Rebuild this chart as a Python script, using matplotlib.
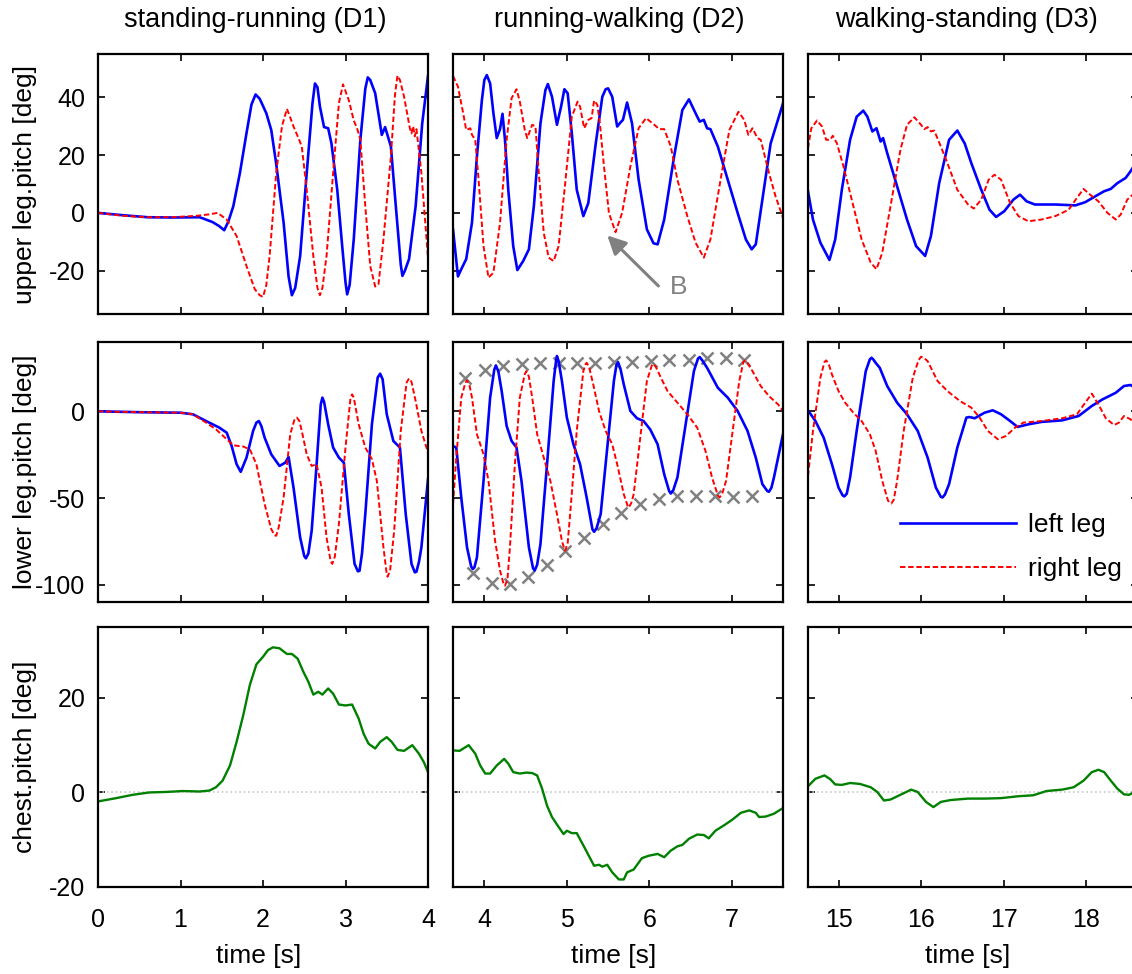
import matplotlib.pyplot as plt
from matplotlib.lines import Line2D

plt.rcParams['font.family'] = ['Liberation Sans', 'DejaVu Sans']
plt.rcParams['axes.unicode_minus'] = False

titles = ['standing-running (D1)', 'running-walking (D2)', 'walking-standing (D3)']
row_labels = ['upper leg.pitch [deg]', 'lower leg.pitch [deg]', 'chest.pitch [deg]']
xlims = [(0, 4), (3.62, 7.62), (14.63, 18.63)]
xticks = [[0, 1, 2, 3, 4], [4, 5, 6, 7], [15, 16, 17, 18]]
ylims = [(-35, 55), (-110, 40), (-20, 35)]
yticks = [[-20, 0, 20, 40], [-100, -50, 0], [-20, 0, 20]]

# ---- upper leg pitch ----
t_up_l1 = [0, 0.3, 0.6, 0.9, 1.23, 1.28, 1.39, 1.47, 1.53, 1.58, 1.64, 1.72, 1.8, 1.86, 1.91, 1.96,
           2.04, 2.1, 2.16, 2.25, 2.31, 2.35, 2.39, 2.45, 2.53, 2.6, 2.63, 2.66, 2.69, 2.74, 2.79, 2.83,
           2.9, 2.96, 3.0, 3.02, 3.05, 3.1, 3.18, 3.24, 3.27, 3.3, 3.36, 3.44, 3.48, 3.55, 3.61, 3.67,
           3.69, 3.72, 3.77, 3.85, 3.93, 4.0]
up_l1 = [0, -0.8, -1.5, -1.6, -1.5, -2.0, -3.2, -4.6, -6.0, -3.0, 2.3, 13.8, 27.6, 37.5, 41.0, 39.5,
         34.5, 28.7, 17.0, -3.4, -22.0, -28.5, -26.0, -15.0, 13.8, 38.0, 44.8, 43.5, 36.8, 29.7, 29.3, 24.0,
         8.0, -11.5, -24.0, -28.2, -25.0, -9.2, 25.3, 43.0, 46.9, 46.0, 41.4, 27.0, 29.7, 23.0, 2.3, -18.0,
         -21.8, -20.0, -16.0, 2.3, 31.0, 47.4]
t_up_r1 = [0, 0.3, 0.6, 0.9, 1.2, 1.35, 1.45, 1.56, 1.68, 1.8, 1.9, 1.96, 2.0, 2.04, 2.08, 2.16, 2.23,
           2.29, 2.33, 2.37, 2.43, 2.47, 2.53, 2.61, 2.66, 2.69, 2.72, 2.77, 2.85, 2.92, 2.97, 3.04, 3.1,
           3.14, 3.18, 3.24, 3.3, 3.36, 3.4, 3.46, 3.55, 3.6, 3.63, 3.66, 3.71, 3.78, 3.8, 3.82, 3.84,
           3.86, 3.88, 3.92, 4.0]
up_r1 = [0, -1.0, -1.5, -1.5, -1.0, -0.5, 0, -2.3, -8.0, -18.4, -26.4, -28.5, -29.1, -25.0, -15.0, 13.8, 30.0,
         36.0, 33.0, 29.9, 25.9, 23.0, 8.0, -15.0, -26.0, -28.5, -26.0, -15.0, 13.8, 38.0, 44.5, 39.0, 32.0,
         29.3, 25.3, 2.3, -18.4, -25.5, -24.7, -9.2, 19.5, 41.0, 47.5, 46.0, 40.2, 29.3, 27.5, 30.0, 26.5,
         29.0, 24.0, 13.8, -15.5]

t_up_l2 = [3.62, 3.68, 3.72, 3.78, 3.85, 3.91, 3.97, 4.0, 4.03, 4.07, 4.11, 4.15, 4.19, 4.22, 4.25, 4.29,
           4.35, 4.4, 4.47, 4.54, 4.6, 4.68, 4.74, 4.77, 4.82, 4.88, 4.93, 4.97, 5.01, 5.06, 5.12, 5.2,
           5.26, 5.35, 5.43, 5.47, 5.5, 5.55, 5.61, 5.65, 5.68, 5.73, 5.79, 5.87, 5.97, 6.05, 6.1, 6.18,
           6.3, 6.4, 6.48, 6.56, 6.61, 6.66, 6.7, 6.74, 6.83, 6.95, 7.07, 7.17, 7.24, 7.29, 7.37, 7.47,
           7.62]
up_l2 = [-5.7, -22.0, -19.5, -16.0, -3.4, 19.5, 39.0, 46.0, 47.7, 44.8, 34.5, 25.9, 29.0, 34.3, 25.3, 8.0,
         -11.5, -19.8, -16.7, -12.6, 2.3, 31.0, 42.5, 44.6, 40.2, 30.5, 36.8, 42.8, 41.4, 27.6, 8.0, -1.1,
         3.4, 24.0, 40.2, 42.8, 43.1, 40.2, 29.9, 31.3, 32.2, 38.2, 31.0, 11.5, -5.7, -10.5, -10.9, -2.3,
         19.5, 35.6, 39.3, 34.5, 31.6, 32.2, 29.3, 29.0, 23.0, 11.5, 0, -9.2, -12.6, -10.9, 4.6, 24.0,
         37.9]
t_up_r2 = [3.62, 3.68, 3.74, 3.78, 3.83, 3.85, 3.89, 3.93, 3.99, 4.05, 4.11, 4.19, 4.27, 4.33, 4.39, 4.43,
           4.49, 4.52, 4.58, 4.62, 4.66, 4.72, 4.78, 4.84, 4.9, 4.98, 5.06, 5.13, 5.16, 5.21, 5.26, 5.3,
           5.33, 5.37, 5.4, 5.45, 5.51, 5.59, 5.67, 5.77, 5.87, 5.96, 6.06, 6.12, 6.18, 6.26, 6.34, 6.46,
           6.56, 6.66, 6.74, 6.87, 6.97, 7.08, 7.15, 7.2, 7.25, 7.31, 7.35, 7.45, 7.53, 7.62]
up_r2 = [47.4, 43.7, 35.0, 28.7, 29.3, 27.0, 25.3, 11.5, -11.5, -22.4, -20.7, -3.4, 25.3, 39.7, 42.8, 38.5,
         28.7, 25.9, 30.5, 29.9, 13.8, -6.9, -15.5, -16.7, -11.5, 10.3, 33.3, 38.5, 36.8, 29.3, 32.2, 32.8,
         38.9, 37.4, 31.0, 16.1, 0, -6.7, 0, 16.1, 29.3, 32.8, 30.5, 29.0, 29.0, 23.0, 11.5, -1.1,
         -10.3, -15.5, -9.2, 12.6, 28.7, 35.0, 32.2, 27.0, 29.3, 25.9, 25.3, 13.8, 5.7, -1.7]

t_up_l3 = [14.63, 14.69, 14.78, 14.89, 14.96, 15.04, 15.14, 15.22, 15.3, 15.35, 15.41, 15.46, 15.51, 15.54,
           15.59, 15.71, 15.83, 15.94, 16.05, 16.12, 16.22, 16.34, 16.44, 16.53, 16.61, 16.73, 16.83, 16.91,
           17.01, 17.12, 17.2, 17.28, 17.38, 17.63, 17.87, 17.99, 18.11, 18.22, 18.3, 18.38, 18.48, 18.54,
           18.59]
up_l3 = [7.5, -2.3, -10.3, -16.3, -9.2, 8.0, 25.3, 33.3, 35.4, 33.3, 28.2, 29.3, 24.7, 25.9,
         20.7, 9.2, -2.3, -11.5, -14.9, -8.0, 10.3, 25.3, 28.5, 24.0, 17.2, 8.0, 1.1, -1.4,
         0.6, 4.6, 6.3, 4.0, 2.9, 2.9, 2.6, 3.7, 5.7, 7.5, 8.3, 10.3, 12.1, 14.4,
         16.7]
t_up_r3 = [14.63, 14.67, 14.74, 14.8, 14.85, 14.9, 14.93, 14.98, 15.06, 15.18, 15.28, 15.39, 15.46, 15.53,
           15.63, 15.75, 15.83, 15.92, 16.0, 16.04, 16.08, 16.12, 16.16, 16.24, 16.32, 16.44, 16.57, 16.64,
           16.73, 16.82, 16.89, 16.97, 17.08, 17.18, 17.3, 17.46, 17.63, 17.79, 17.89, 17.97, 18.05, 18.15,
           18.26, 18.36, 18.42, 18.5, 18.59]
up_r3 = [22.4, 29.3, 32.0, 29.9, 25.3, 25.3, 26.7, 24.1, 16.1, 2.3, -9.2, -17.2, -19.5, -13.8,
         2.3, 21.8, 30.5, 33.1, 30.5, 29.0, 29.7, 28.2, 28.5, 23.0, 17.2, 8.0, 2.9, 1.5,
         4.6, 11.5, 13.2, 11.5, 3.4, -1.1, -2.9, -2.3, -1.1, 1.1, 5.2, 8.3, 6.3, 4.0,
         0, -2.3, -0.6, 4.6, 6.9]

# ---- lower leg pitch ----
t_lo_l1 = [0, 0.5, 1.0, 1.15, 1.31, 1.47, 1.56, 1.62, 1.68, 1.73, 1.8, 1.88, 1.92, 1.95, 1.98, 2.02, 2.1,
           2.2, 2.27, 2.31, 2.37, 2.45, 2.5, 2.52, 2.55, 2.59, 2.65, 2.7, 2.72, 2.74, 2.79, 2.85, 2.92,
           2.98, 3.04, 3.11, 3.15, 3.17, 3.2, 3.24, 3.32, 3.39, 3.42, 3.45, 3.5, 3.58, 3.66, 3.73, 3.8,
           3.84, 3.86, 3.89, 3.92, 4.0]
lo_l1 = [0, -0.5, -0.8, -1.7, -5.6, -9.4, -12.3, -20.0, -30.5, -34.9, -26.7, -11.3, -6.5, -5.6, -8.5, -15.2,
         -24.8, -31.5, -29.6, -26.3, -44.0, -72.7, -83.5, -84.8, -82.0, -68.9, -30.5, 4.0, 7.9, 5.5, -7.5,
         -20.9, -26.7, -29.6, -59.3, -88.0, -92.3, -92.0, -82.0, -59.3, -7.5, 19.5, 21.7, 18.5, -1.7, -17.1,
         -20.9, -59.3, -88.0, -92.9, -92.5, -87.0, -78.5, -39.2]
t_lo_r1 = [0, 0.5, 1.0, 1.15, 1.31, 1.43, 1.56, 1.64, 1.76, 1.84, 1.92, 2.02, 2.1, 2.14, 2.16, 2.19, 2.25,
           2.33, 2.38, 2.41, 2.44, 2.47, 2.53, 2.59, 2.65, 2.71, 2.77, 2.82, 2.84, 2.87, 2.92, 3.0, 3.06,
           3.08, 3.1, 3.16, 3.24, 3.32, 3.38, 3.46, 3.5, 3.51, 3.54, 3.59, 3.67, 3.74, 3.77, 3.8, 3.85,
           3.92, 4.0]
lo_r1 = [0, -0.5, -0.8, -1.7, -6.5, -10.4, -16.1, -19.6, -20.3, -21.9, -30.5, -53.6, -67.9, -71.5, -71.8,
         -67.0, -49.7, -13.2, -5.0, -3.6, -5.5, -11.3, -24.8, -31.5, -30.5, -44.0, -72.7, -86.5, -88.0,
         -84.0, -65.0, -20.9, 7.5, 9.8, 8.0, -7.5, -20.9, -27.6, -40.1, -78.5, -94.0, -95.4, -92.0, -68.9,
         -11.3, 16.5, 19.0, 17.0, 6.0, -11.3, -23.8]

t_lo_l2 = [3.62, 3.66, 3.72, 3.79, 3.84, 3.86, 3.88, 3.91, 3.99, 4.07, 4.12, 4.14, 4.17, 4.21, 4.27, 4.33,
           4.39, 4.45, 4.54, 4.59, 4.61, 4.64, 4.68, 4.76, 4.84, 4.87, 4.88, 4.9, 4.94, 5.0, 5.08, 5.16,
           5.24, 5.31, 5.33, 5.36, 5.41, 5.49, 5.57, 5.6, 5.62, 5.65, 5.69, 5.77, 5.85, 5.93, 6.01, 6.1,
           6.18, 6.24, 6.26, 6.29, 6.34, 6.44, 6.54, 6.59, 6.61, 6.64, 6.7, 6.83, 6.95, 7.07, 7.19, 7.29,
           7.37, 7.43, 7.45, 7.48, 7.51, 7.62]
lo_l2 = [-20.0, -20.9, -49.7, -78.5, -89.5, -91.0, -90.0, -84.3, -40.1, 7.9, 24.0, 26.5, 23.0, 11.7, -8.4,
         -17.1, -20.9, -40.1, -78.5, -90.5, -91.9, -88.5, -76.6, -30.5, 17.5, 29.5, 31.9, 29.0, 17.5, -3.6,
         -19.0, -30.5, -49.7, -68.0, -69.5, -67.5, -59.3, -20.9, 17.5, 26.5, 28.4, 24.5, 15.5, 0.2, -4.0,
         -5.6, -10.4, -19.0, -36.3, -46.0, -47.4, -45.5, -38.2, -7.5, 23.2, 30.5, 31.3, 29.5, 25.1, 13.6,
         7.9, 0.2, -11.3, -26.7, -42.0, -46.0, -46.4, -44.0, -38.2, -13.2]
t_lo_r2 = [3.62, 3.66, 3.72, 3.77, 3.79, 3.82, 3.85, 3.91, 3.99, 4.05, 4.13, 4.19, 4.23, 4.25, 4.28, 4.31,
           4.37, 4.43, 4.49, 4.51, 4.54, 4.58, 4.64, 4.72, 4.8, 4.88, 4.94, 4.97, 4.98, 5.01, 5.04, 5.12,
           5.2, 5.23, 5.24, 5.27, 5.32, 5.39, 5.47, 5.55, 5.61, 5.69, 5.74, 5.75, 5.78, 5.81, 5.89, 5.97,
           6.03, 6.05, 6.08, 6.14, 6.22, 6.34, 6.46, 6.58, 6.68, 6.76, 6.83, 6.85, 6.88, 6.93, 7.01, 7.09,
           7.14, 7.16, 7.19, 7.25, 7.35, 7.45, 7.56, 7.62]
lo_r2 = [-53.6, -26.7, 7.9, 16.5, 17.9, 15.0, 7.9, -13.2, -24.8, -40.1, -74.7, -91.9, -99.0, -100.6, -97.0,
         -78.5, -30.5, 7.9, 21.5, 23.2, 20.0, 7.9, -13.2, -26.7, -40.1, -59.3, -74.7, -79.5, -80.4, -76.0,
         -59.3, -11.3, 23.2, 27.5, 28.0, 25.5, 15.5, 0.2, -11.3, -19.0, -30.5, -47.8, -55.0, -55.5, -53.0,
         -47.8, -15.2, 17.5, 26.5, 27.4, 25.5, 19.4, 11.7, 5.0, -1.7, -9.4, -22.8, -38.2, -48.5, -49.7,
         -48.0, -40.1, -11.3, 17.5, 28.5, 29.4, 28.0, 23.2, 14.6, 8.8, 4.0, 0.2]

t_lo_l3 = [14.63, 14.72, 14.82, 14.92, 15.0, 15.05, 15.07, 15.1, 15.14, 15.22, 15.33, 15.38, 15.4, 15.42,
           15.45, 15.5, 15.59, 15.71, 15.83, 15.96, 16.08, 16.18, 16.24, 16.26, 16.29, 16.34, 16.44, 16.55,
           16.59, 16.65, 16.77, 16.87, 16.97, 17.08, 17.17, 17.3, 17.46, 17.71, 17.91, 18.07, 18.2, 18.36,
           18.46, 18.54, 18.59]
lo_l3 = [0.6, -5.6, -15.2, -30.5, -44.0, -48.5, -49.1, -47.5, -38.2, -11.3, 23.2, 30.0, 30.9, 30.0,
         28.0, 25.1, 14.6, 5.0, -1.7, -11.3, -26.7, -44.0, -49.3, -49.7, -48.0, -42.0, -20.9, -3.6,
         -3.3, -4.0, -0.8, 0.6, -1.7, -5.6, -9.0, -7.5, -6.1, -5.2, -2.7, 3.1, 6.9, 10.7,
         14.6, 15.2, 13.6]
t_lo_r3 = [14.63, 14.69, 14.78, 14.83, 14.85, 14.88, 14.92, 15.0, 15.08, 15.18, 15.28, 15.38, 15.45, 15.53,
           15.6, 15.64, 15.67, 15.71, 15.79, 15.9, 15.97, 16.0, 16.03, 16.08, 16.14, 16.2, 16.32, 16.47,
           16.61, 16.71, 16.81, 16.93, 17.03, 17.14, 17.24, 17.46, 17.71, 17.89, 17.99, 18.07, 18.15, 18.24,
           18.34, 18.4, 18.46, 18.54, 18.59]
lo_r3 = [-37.2, -11.3, 19.4, 28.5, 29.4, 27.5, 21.3, 11.7, 5.0, -0.8, -5.6, -13.2, -22.8, -40.1,
         -51.6, -53.2, -51.0, -40.1, -11.3, 19.4, 29.5, 31.5, 31.0, 29.0, 23.2, 17.5, 11.7, 6.0,
         2.1, -3.6, -11.3, -16.1, -14.2, -9.4, -6.5, -5.6, -4.0, -1.7, 5.0, 10.2, 4.0, -4.0,
         -7.9, -6.5, -2.7, -4.6, -7.1]

# envelope markers (D2, lower leg)
mk_up_t = [3.765, 4.008, 4.231, 4.454, 4.677, 4.908, 5.123, 5.346, 5.569, 5.792, 6.015, 6.238, 6.481,
           6.704, 6.927, 7.15]
mk_up_y = [19.4, 23.6, 26.1, 27.1, 27.6, 28.0, 28.0, 28.0, 28.4, 28.4, 29.0, 29.4, 29.9, 30.9, 30.5, 29.9]
mk_lo_t = [3.858, 4.089, 4.312, 4.535, 4.758, 4.981, 5.204, 5.435, 5.658, 5.885, 6.116, 6.339, 6.562,
           6.793, 7.016, 7.239]
mk_lo_y = [-93.5, -99.2, -99.6, -95.4, -88.7, -80.8, -72.8, -65.1, -58.4, -53.6, -50.7, -49.1, -49.1,
           -49.1, -49.7, -49.1]

# ---- chest pitch ----
t_ch1 = [0, 0.22, 0.42, 0.62, 0.82, 1.03, 1.23, 1.35, 1.43, 1.51, 1.6, 1.68, 1.76, 1.84, 1.92, 2.0, 2.06,
         2.12, 2.2, 2.29, 2.35, 2.42, 2.49, 2.55, 2.61, 2.67, 2.72, 2.79, 2.85, 2.92, 3.0, 3.08, 3.16,
         3.22, 3.28, 3.36, 3.42, 3.5, 3.56, 3.63, 3.71, 3.81, 3.89, 3.95, 4.0]
ch1 = [-1.9, -1.2, -0.5, 0, 0.1, 0.3, 0.2, 0.4, 1.1, 2.5, 5.7, 10.7, 16.3, 22.7, 27.1, 28.7, 30.1,
       30.7, 30.5, 29.3, 29.3, 28.3, 25.5, 23.4, 20.7, 21.3, 20.7, 22.0, 20.9, 18.6, 18.4, 18.6, 15.6,
       12.4, 10.3, 9.3, 10.7, 11.7, 10.7, 9.0, 8.8, 10.0, 8.2, 6.4, 4.3]
t_ch2 = [3.62, 3.7, 3.81, 3.89, 3.95, 4.01, 4.07, 4.15, 4.24, 4.29, 4.35, 4.43, 4.51, 4.58, 4.64, 4.7,
         4.76, 4.82, 4.9, 4.96, 5.0, 5.06, 5.12, 5.2, 5.33, 5.39, 5.43, 5.49, 5.55, 5.63, 5.69, 5.73,
         5.81, 5.91, 5.99, 6.1, 6.18, 6.26, 6.34, 6.4, 6.48, 6.58, 6.66, 6.72, 6.8, 6.91, 7.01, 7.11,
         7.21, 7.29, 7.33, 7.41, 7.51, 7.62]
ch2 = [8.9, 8.8, 10.0, 8.2, 5.7, 4.0, 4.0, 5.7, 7.1, 6.1, 4.3, 4.0, 4.2, 4.1, 3.6, 0.8,
       -2.8, -5.2, -7.3, -8.8, -8.1, -8.6, -8.6, -11.2, -15.5, -15.3, -15.7, -15.3, -16.9, -18.4, -18.4,
       -16.9, -16.3, -13.9, -13.4, -13.0, -13.7, -12.3, -11.4, -11.1, -9.8, -8.9, -9.0, -9.7, -8.1,
       -6.9, -5.7, -4.3, -3.8, -4.3, -5.2, -5.1, -4.5, -3.3]
t_ch3 = [14.63, 14.72, 14.83, 14.9, 14.96, 15.04, 15.14, 15.26, 15.39, 15.47, 15.55, 15.63, 15.75, 15.88,
         15.96, 16.06, 16.15, 16.24, 16.36, 16.57, 16.77, 16.97, 17.18, 17.36, 17.52, 17.71, 17.85, 17.97,
         18.07, 18.15, 18.22, 18.3, 18.38, 18.46, 18.52, 18.59]
ch3 = [1.3, 2.9, 3.6, 2.8, 1.7, 1.6, 2.0, 1.8, 1.1, 0.1, -1.7, -1.5, -0.5, 0.6,
       0.1, -2.0, -3.1, -2.0, -1.6, -1.3, -1.3, -1.2, -0.8, -0.6, 0.3, 0.6, 1.1, 2.5,
       4.3, 4.8, 4.3, 2.5, 0.8, -0.4, -0.5, 0.1]

left_series = [[(t_up_l1, up_l1), (t_up_l2, up_l2), (t_up_l3, up_l3)],
               [(t_lo_l1, lo_l1), (t_lo_l2, lo_l2), (t_lo_l3, lo_l3)]]
right_series = [[(t_up_r1, up_r1), (t_up_r2, up_r2), (t_up_r3, up_r3)],
                [(t_lo_r1, lo_r1), (t_lo_r2, lo_r2), (t_lo_r3, lo_r3)]]
chest_series = [(t_ch1, ch1), (t_ch2, ch2), (t_ch3, ch3)]

BLUE = '#0000ff'
RED = '#ff0000'
GREEN = '#008000'
GRAY = '#808080'

W, H = 1132, 974
fig = plt.figure(figsize=(W / 100, H / 100), dpi=100)

col_left = [98, 453, 808]
row_top = [54, 342, 627]
aw, ah = 330, 260
title_x = [255, 619, 966]
xlabel_x = [259, 614, 968]

axes = [[None] * 3 for _ in range(3)]
for r in range(3):
    for c in range(3):
        ax = fig.add_axes([col_left[c] / W, 1 - (row_top[r] + ah) / H, aw / W, ah / H])
        axes[r][c] = ax
        ax.set_xlim(*xlims[c])
        ax.set_ylim(*ylims[r])
        ax.set_xticks(xticks[c])
        ax.set_yticks(yticks[r])
        ax.tick_params(direction='in', top=True, right=True, length=5, width=1.2,
                       labelsize=18)
        ax.tick_params(axis='y', pad=9)
        ax.tick_params(axis='x', pad=15)
        if r < 2:
            ax.set_xticklabels([])
        if c > 0:
            ax.set_yticklabels([])
        for s in ax.spines.values():
            s.set_linewidth(1.6)

        if r < 2:
            tl, yl = left_series[r][c]
            tr, yr = right_series[r][c]
            ax.plot(tl, yl, color=BLUE, lw=1.9, solid_joinstyle='round')
            ax.plot(tr, yr, color=RED, lw=1.4, dashes=(2.8, 1.4))
        else:
            ax.axhline(0, color='#c8c8c8', ls=':', lw=1.2)
            tc, yc = chest_series[c]
            ax.plot(tc, yc, color=GREEN, lw=1.7, solid_joinstyle='round')

# envelope crosses on D2 lower leg
ax = axes[1][1]
ax.plot(mk_up_t, mk_up_y, ls='none', marker='x', ms=8, mew=1.8, color=GRAY, zorder=1)
ax.plot(mk_lo_t, mk_lo_y, ls='none', marker='x', ms=8, mew=1.8, color=GRAY, zorder=1)

# annotation B on D2 upper leg
ax = axes[0][1]
ax.annotate('', xy=(5.49, -7.8), xytext=(6.11, -25.3),
            arrowprops=dict(arrowstyle='-|>', color=GRAY, lw=2.2, mutation_scale=28,
                            shrinkA=0, shrinkB=0))
ax.text(6.35, -25.8, 'B', color=GRAY, fontsize=19, ha='center', va='center')

# legend on D3 lower leg
handles = [Line2D([], [], color=BLUE, lw=1.9),
           Line2D([], [], color=RED, lw=1.4, dashes=(2.8, 1.4))]
axes[1][2].legend(handles, ['left leg', 'right leg'], loc='lower right', frameon=False,
                  fontsize=19, handlelength=4.4, handletextpad=0.45, labelspacing=0.75,
                  bbox_to_anchor=(1.024, -0.01))

# titles, labels
for c in range(3):
    fig.text(title_x[c] / W, 1 - 20 / H, titles[c], fontsize=19.5, ha='center', va='center')
    fig.text(xlabel_x[c] / W, 1 - 956 / H, 'time [s]', fontsize=19, ha='center', va='center')
for r in range(3):
    cy = 1 - (row_top[r] + ah / 2) / H
    fig.text(25 / W, cy, row_labels[r], fontsize=19, rotation=90, ha='center', va='center')

fig.savefig('out.png', dpi=100)
